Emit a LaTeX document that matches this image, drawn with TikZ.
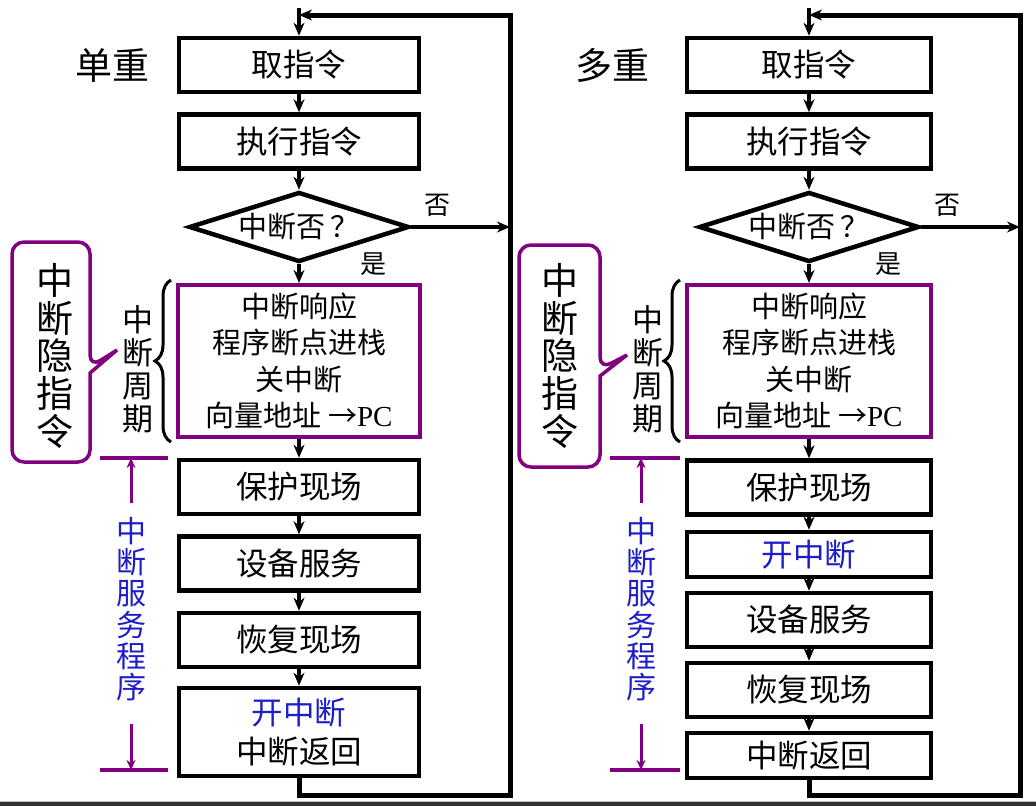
\documentclass[tikz,border=0pt]{standalone}
\usepackage{fontspec}
\setmainfont{Liberation Serif}
\newfontfamily\cjk{Noto Sans CJK SC}
\usetikzlibrary{positioning,shapes.geometric,arrows.meta,decorations.pathreplacing}

\definecolor{intpurple}{RGB}{128,0,128}
\definecolor{intblue}{RGB}{30,30,200}

\newcommand{\boxfont}{\cjk\fontsize{31.5}{36}\selectfont}
\newcommand{\cyclefont}{\cjk\fontsize{29}{36.5}\selectfont}
\newcommand{\retfont}{\cjk\fontsize{31.5}{39}\selectfont}
\newcommand{\labfont}{\cjk\fontsize{26}{28}\selectfont}
\newcommand{\bigfont}{\cjk\fontsize{37}{37.6}\selectfont}
\newcommand{\sidefont}{\cjk\fontsize{31}{33}\selectfont}
\newcommand{\svcfont}{\cjk\fontsize{30}{31.3}\selectfont}

\tikzset{
  stepbox/.style={draw, line width=4.5pt, minimum width=240pt, minimum height=54pt, inner sep=0pt, font=\boxfont},
  retbox/.style={stepbox, minimum height=88pt, align=center, font=\retfont},
  cyclebox/.style={stepbox, draw=intpurple, line width=4pt, minimum width=242pt, minimum height=152pt, align=center, font=\cyclefont},
  test/.style={diamond, draw, line width=4.5pt, aspect=3.1, minimum width=220pt, minimum height=70pt, inner sep=0pt, font=\cyclefont},
  flow/.style={->, line width=4pt},
  loopline/.style={line width=5pt},
  side/.style={align=center, font=\sidefont, inner sep=0pt},
  svcline/.style={intpurple, line width=4pt},
  svcarrow/.style={-{Stealth[length=10pt,width=9pt]}, intpurple, line width=3pt},
  hint/.style={intpurple, line width=3.5pt, rounded corners=12pt},
  cyclebrace/.style={decorate, decoration={brace, amplitude=16pt}, line width=3pt},
}

\begin{document}
\begin{tikzpicture}[x=1pt, y=-1pt, on grid, node distance=76.5pt, >={Stealth[length=13pt,width=11pt]}]
\useasboundingbox (0,0) rectangle (1036,806);
\fill[black!80] (0,802) rectangle (1036,806);
\draw[black!25, line width=0.8pt] (0,801) -- (1036,801);

% single level
\node[stepbox] (fetch1) at (299,65) {取指令};
\node[stepbox] (exec1) [below=of fetch1] {执行指令};
\node[test] (ask1) [below=85.5pt of exec1] {中断否\,？};
\node[cyclebox] (resp1) [below=134pt of ask1] {中断响应\\程序断点进栈\\关中断\\向量地址 →{\rmfamily PC}};
\node[stepbox] (save1) [below=126pt of resp1] {保护现场};
\node[stepbox] (serve1) [below=of save1] {设备服务};
\node[stepbox] (restore1) [below=of serve1] {恢复现场};
\node[retbox] (ret1) [below=92pt of restore1] {{\color{intblue}开中断}\\中断返回};

\node[font=\bigfont] (single) [left=187pt of fetch1] {单重};
\node[font=\labfont] (yes1) [right=58pt of ask1.south] {是};
\node[side] (cyc1) [left=161pt of resp1, yshift=-8pt] {中\\断\\周\\期};
\node[side, font=\bigfont] (hide1) [left=244pt of resp1, yshift=5pt] {中\\断\\隐\\指\\令};
\node[side, font=\svcfont, text=intblue] (svc1) at (131,609) {中\\断\\服\\务\\程\\序};

\coordinate (in1) at (299,8);
\coordinate (top1) at (510,15);
\coordinate (bot1) at (510,795);
\coordinate (svctop1) at (134,458);
\coordinate (svcbot1) at (134,770);

\path[flow] (in1) edge (fetch1)
  (fetch1) edge (exec1)
  (exec1) edge (ask1)
  (ask1) edge (resp1)
  (resp1) edge (save1)
  (save1) edge (serve1)
  (serve1) edge (restore1)
  (restore1) edge (ret1)
  (ask1) edge node[above=5pt, pos=0.27, font=\labfont] {否} (ask1 -| top1);
\draw[loopline, ->] (ret1.south) |- (bot1) -- (top1) -- (top1 -| in1);

\draw[cyclebrace] ([xshift=-5pt, yshift=-3pt]resp1.south west) -- ([xshift=-5pt, yshift=3pt]resp1.north west);
\draw[hint] (90,373) -- (90,462) -- (12,462) -- (12,242) -- (90,242) -- (90,367) [sharp corners] -- (117,350) -- cycle;

\draw[svcline] ([xshift=-34pt]svctop1) -- ([xshift=34pt]svctop1);
\draw[svcline] ([xshift=-34pt]svcbot1) -- ([xshift=34pt]svcbot1);
\draw[svcarrow, shorten <=14pt] (svc1.north) -- (svctop1 -| svc1);
\draw[svcarrow, shorten <=23pt] (svc1.south) -- (svcbot1 -| svc1);

% multi level
\node[stepbox, minimum width=244pt] (fetch2) at (809,65) {取指令};
\node[stepbox, minimum width=244pt] (exec2) [below=of fetch2] {执行指令};
\node[test] (ask2) [below=85.5pt of exec2] {中断否\,？};
\node[cyclebox, minimum width=244pt] (resp2) [below=134pt of ask2] {中断响应\\程序断点进栈\\关中断\\向量地址 →{\rmfamily PC}};
\node[stepbox, minimum width=244pt] (save2) [below=126.5pt of resp2] {保护现场};
\node[stepbox, minimum width=244pt, minimum height=45pt, text=intblue] (open2) [below=67pt of save2] {开中断};
\node[stepbox, minimum width=244pt] (serve2) [below=65.5pt of open2] {设备服务};
\node[stepbox, minimum width=244pt] (restore2) [below=70pt of serve2] {恢复现场};
\node[stepbox, minimum width=244pt, minimum height=45pt] (ret2) [below=65.5pt of restore2] {中断返回};

\node[font=\bigfont] (multi) [left=197pt of fetch2] {多重};
\node[font=\labfont] (yes2) [right=63pt of ask2.south] {是};
\node[side] (cyc2) [left=161pt of resp2, yshift=-8pt] {中\\断\\周\\期};
\node[side, font=\bigfont] (hide2) [left=249pt of resp2, yshift=5pt] {中\\断\\隐\\指\\令};
\node[side, font=\svcfont, text=intblue] (svc2) at (641,609) {中\\断\\服\\务\\程\\序};

\coordinate (in2) at (809,8);
\coordinate (top2) at (1020,15);
\coordinate (bot2) at (1020,795);
\coordinate (svctop2) at (645,458);
\coordinate (svcbot2) at (645,770);

\path[flow] (in2) edge (fetch2)
  (fetch2) edge (exec2)
  (exec2) edge (ask2)
  (ask2) edge (resp2)
  (resp2) edge (save2)
  (save2) edge (open2)
  (open2) edge (serve2)
  (serve2) edge (restore2)
  (restore2) edge (ret2)
  (ask2) edge node[above=5pt, pos=0.27, font=\labfont] {否} (ask2 -| top2);
\draw[loopline, ->] (ret2.south) |- (bot2) -- (top2) -- (top2 -| in2);

\draw[cyclebrace] ([xshift=-5pt, yshift=-3pt]resp2.south west) -- ([xshift=-5pt, yshift=3pt]resp2.north west);
\draw[hint] (600,376) -- (600,467) -- (519,467) -- (519,245) -- (600,245) -- (600,369) [sharp corners] -- (627,355) -- cycle;

\draw[svcline] ([xshift=-35pt]svctop2) -- ([xshift=35pt]svctop2);
\draw[svcline] ([xshift=-35pt]svcbot2) -- ([xshift=35pt]svcbot2);
\draw[svcarrow, shorten <=14pt] (svc2.north) -- (svctop2 -| svc2);
\draw[svcarrow, shorten <=23pt] (svc2.south) -- (svcbot2 -| svc2);
\end{tikzpicture}
\end{document}
